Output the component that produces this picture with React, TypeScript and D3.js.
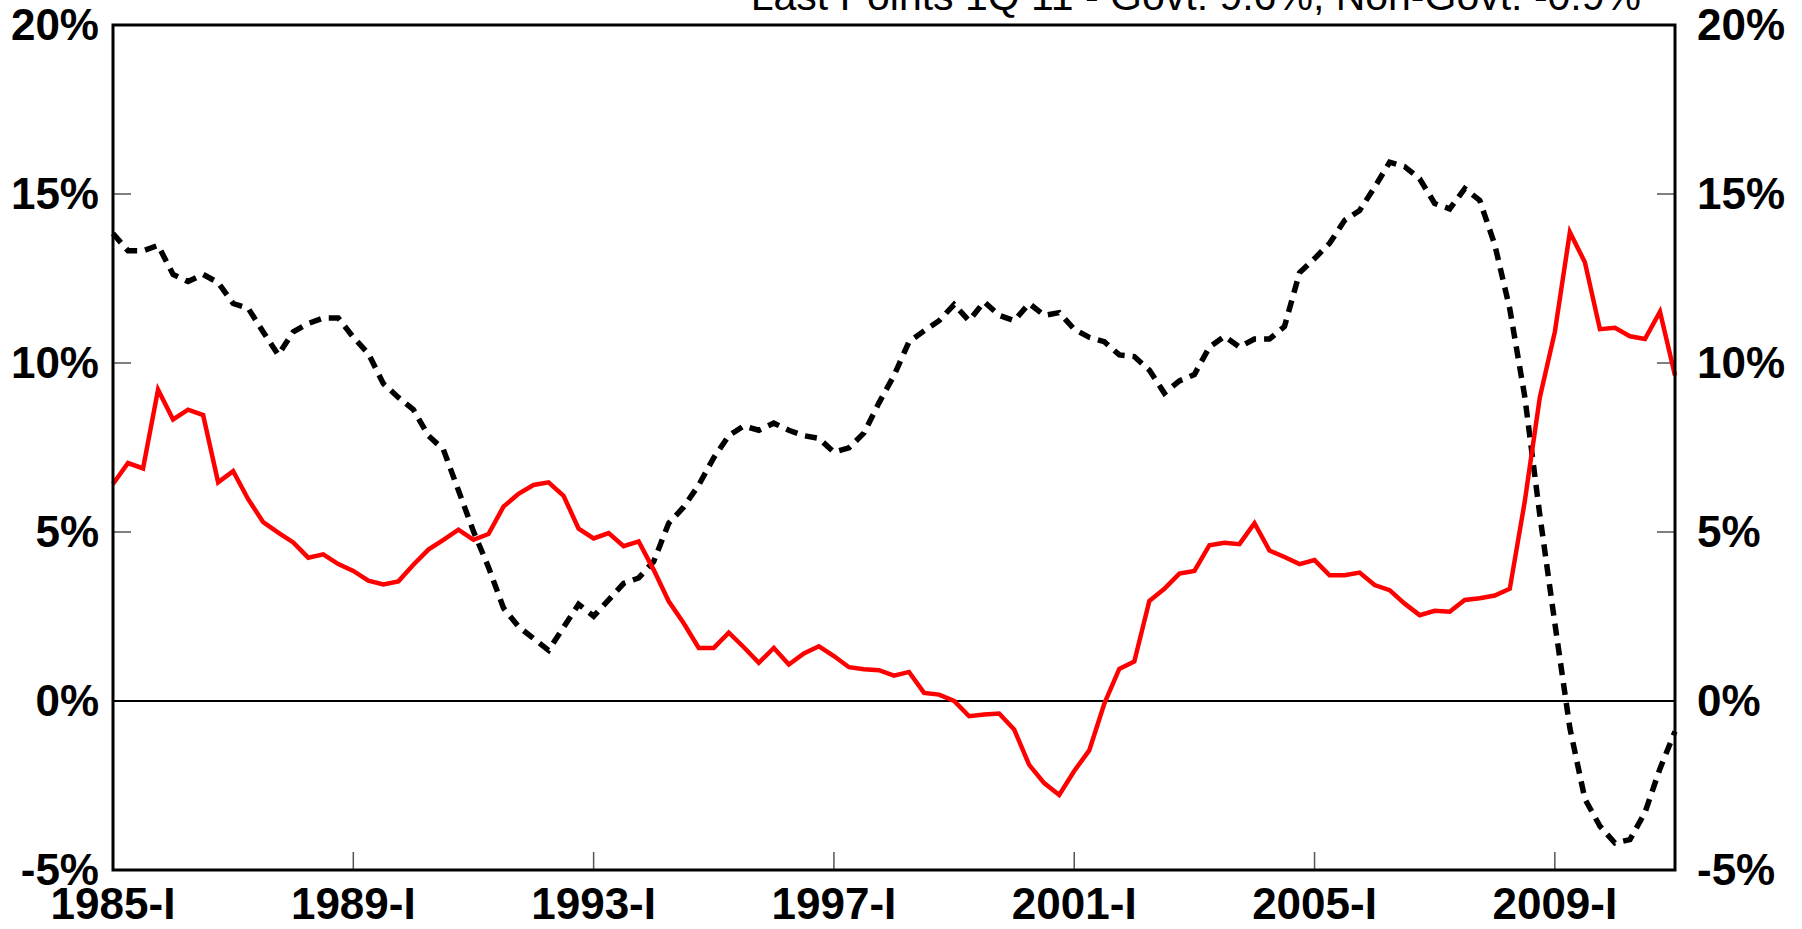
import React from "react";
import * as d3 from "d3";

// Quarterly data, 1985-I .. 2011-I (105 quarters)
const startYear = 1985;
const govt: number[] = [
  6.42, 7.04, 6.88, 9.21, 8.33, 8.62, 8.46, 6.47, 6.8, 5.97,
  5.29, 4.98, 4.69, 4.24, 4.34, 4.05, 3.85, 3.56, 3.45, 3.54,
  4.03, 4.48, 4.77, 5.07, 4.77, 4.94, 5.75, 6.13, 6.39, 6.47,
  6.07, 5.1, 4.81, 4.97, 4.58, 4.72, 3.88, 2.95, 2.3, 1.57,
  1.57, 2.02, 1.59, 1.13, 1.57, 1.08, 1.41, 1.62, 1.33, 1.0,
  0.94, 0.91, 0.75, 0.86, 0.24, 0.19, 0.0, -0.45, -0.4, -0.37,
  -0.84, -1.89, -2.43, -2.78, -2.07, -1.46, -0.08, 0.95, 1.17, 2.96,
  3.32, 3.77, 3.85, 4.61, 4.68, 4.64, 5.26, 4.45, 4.26, 4.05,
  4.17, 3.72, 3.72, 3.8, 3.43, 3.28, 2.88, 2.54, 2.67, 2.64,
  2.99, 3.04, 3.12, 3.32, 5.91, 8.98, 10.92, 13.87, 12.98, 11.0,
  11.04, 10.79, 10.71, 11.52, 9.63,
];
const nonGovt: number[] = [
  13.83, 13.32, 13.32, 13.48, 12.62, 12.41, 12.62, 12.38, 11.76, 11.62,
  10.92, 10.24, 10.92, 11.17, 11.33, 11.33, 10.76, 10.28, 9.39, 8.98,
  8.62, 7.85, 7.44, 6.23, 5.02, 3.96, 2.75, 2.2, 1.85, 1.5,
  2.18, 2.86, 2.51, 2.99, 3.48, 3.64, 4.13, 5.26, 5.74, 6.39,
  7.2, 7.85, 8.14, 8.01, 8.22, 8.01, 7.85, 7.77, 7.36, 7.49,
  7.93, 8.82, 9.63, 10.63, 10.95, 11.25, 11.73, 11.25, 11.81, 11.41,
  11.25, 11.76, 11.41, 11.49, 11.0, 10.76, 10.63, 10.24, 10.19, 9.79,
  9.11, 9.47, 9.66, 10.47, 10.79, 10.47, 10.71, 10.71, 11.08, 12.67,
  13.09, 13.54, 14.22, 14.51, 15.2, 15.94, 15.81, 15.45, 14.72, 14.56,
  15.16, 14.81, 13.5, 11.6, 9.0, 5.5, 2.3, -0.8, -2.9, -3.7,
  -4.2, -4.1, -3.3, -2.0, -0.9,
];
const yTicks: number[] = [-5, 0, 5, 10, 15, 20];
const xTickIdx: number[] = [0, 16, 32, 48, 64, 80, 96];
const titleText = "Last Points 1Q 11 - Govt: 9.6%, Non-Govt: -0.9%";

export default function App() {
  const W = 1802;
  const H = 929;
  const left = 113;
  const right = 1675;
  const top = 25;
  const bottom = 870;
  const font = "'Liberation Sans', Arial, Helvetica, sans-serif";

  const x = d3.scaleLinear().domain([0, govt.length - 1]).range([left, right]);
  const y = d3.scaleLinear().domain([-5, 20]).range([bottom, top]);
  const line = d3
    .line<number>()
    .x((_, i) => x(i))
    .y((d) => y(d));

  const innerTicks = yTicks.filter((v) => v !== -5 && v !== 20 && v !== 0);

  return (
    <svg
      width={W}
      height={H}
      style={{ position: "absolute", left: 0, top: 0, background: "#fff" }}
    >
      <rect x={0} y={0} width={W} height={H} fill="#fff" />
      <text
        x={1641}
        y={10}
        textAnchor="end"
        fontFamily={font}
        fontSize={41}
        fill="#000"
      >
        {titleText}
      </text>
      {/* zero line */}
      <line x1={left} x2={right} y1={y(0)} y2={y(0)} stroke="#000" strokeWidth={2} />
      {/* y ticks both sides */}
      {innerTicks.map((v) => (
        <g key={"yt" + v}>
          <line x1={left} x2={left + 18} y1={y(v)} y2={y(v)} stroke="#555" strokeWidth={1.5} />
          <line x1={right - 18} x2={right} y1={y(v)} y2={y(v)} stroke="#555" strokeWidth={1.5} />
        </g>
      ))}
      {/* x ticks */}
      {xTickIdx
        .filter((i) => i > 0)
        .map((i) => (
          <line
            key={"xt" + i}
            x1={x(i)}
            x2={x(i)}
            y1={bottom}
            y2={bottom - 18}
            stroke="#555"
            strokeWidth={1.5}
          />
        ))}
      {/* series */}
      <path
        d={line(nonGovt) || ""}
        fill="none"
        stroke="#000"
        strokeWidth={5.5}
        strokeDasharray="12,8"
        strokeLinejoin="miter"
      />
      <path
        d={line(govt) || ""}
        fill="none"
        stroke="#ff0000"
        strokeWidth={4.5}
        strokeLinejoin="miter"
      />
      {/* frame */}
      <rect
        x={left}
        y={top}
        width={right - left}
        height={bottom - top}
        fill="none"
        stroke="#000"
        strokeWidth={3}
      />
      {/* y labels */}
      {yTicks.map((v) => (
        <g key={"yl" + v}>
          <text
            x={99}
            y={y(v) + 15}
            textAnchor="end"
            fontFamily={font}
            fontWeight="bold"
            fontSize={44}
            fill="#000"
          >
            {v + "%"}
          </text>
          <text
            x={1697}
            y={y(v) + 15}
            textAnchor="start"
            fontFamily={font}
            fontWeight="bold"
            fontSize={44}
            fill="#000"
          >
            {v + "%"}
          </text>
        </g>
      ))}
      {/* x labels */}
      {xTickIdx.map((i) => (
        <text
          key={"xl" + i}
          x={x(i)}
          y={919}
          textAnchor="middle"
          fontFamily={font}
          fontWeight="bold"
          fontSize={44}
          fill="#000"
        >
          {startYear + i / 4 + "-I"}
        </text>
      ))}
    </svg>
  );
}
